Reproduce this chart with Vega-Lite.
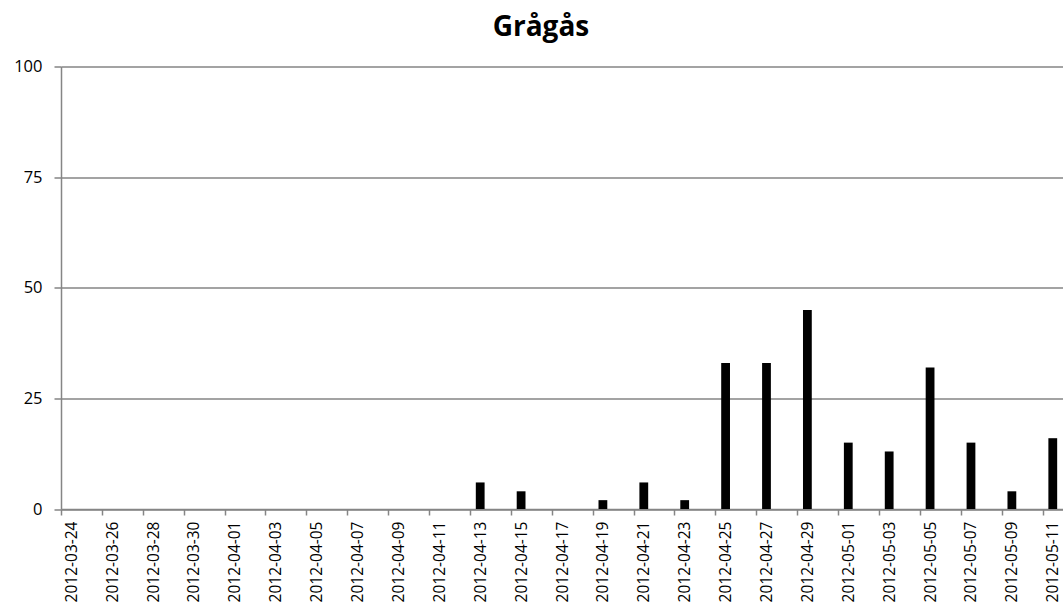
{
  "$schema": "https://vega.github.io/schema/vega-lite/v6.json",
  "width": 1002,
  "height": 442.5,
  "autosize": "none",
  "padding": {"left": 61, "top": 66.5, "right": 0, "bottom": 94},
  "background": "white",
  "title": {"text": "Grågås", "font": "Open Sans", "fontSize": 28, "fontWeight": "bold", "color": "#000000", "dx": -21, "offset": 17},
  "data": {"values": [
    {"date": "2012-03-24", "count": 0}, {"date": "2012-03-25", "count": 0}, {"date": "2012-03-26", "count": 0}, {"date": "2012-03-27", "count": 0},
    {"date": "2012-03-28", "count": 0}, {"date": "2012-03-29", "count": 0}, {"date": "2012-03-30", "count": 0}, {"date": "2012-03-31", "count": 0},
    {"date": "2012-04-01", "count": 0}, {"date": "2012-04-02", "count": 0}, {"date": "2012-04-03", "count": 0}, {"date": "2012-04-04", "count": 0},
    {"date": "2012-04-05", "count": 0}, {"date": "2012-04-06", "count": 0}, {"date": "2012-04-07", "count": 0}, {"date": "2012-04-08", "count": 0},
    {"date": "2012-04-09", "count": 0}, {"date": "2012-04-10", "count": 0}, {"date": "2012-04-11", "count": 0}, {"date": "2012-04-12", "count": 0},
    {"date": "2012-04-13", "count": 6}, {"date": "2012-04-14", "count": 0}, {"date": "2012-04-15", "count": 4}, {"date": "2012-04-16", "count": 0},
    {"date": "2012-04-17", "count": 0}, {"date": "2012-04-18", "count": 0}, {"date": "2012-04-19", "count": 2}, {"date": "2012-04-20", "count": 0},
    {"date": "2012-04-21", "count": 6}, {"date": "2012-04-22", "count": 0}, {"date": "2012-04-23", "count": 2}, {"date": "2012-04-24", "count": 0},
    {"date": "2012-04-25", "count": 33}, {"date": "2012-04-26", "count": 0}, {"date": "2012-04-27", "count": 33}, {"date": "2012-04-28", "count": 0},
    {"date": "2012-04-29", "count": 45}, {"date": "2012-04-30", "count": 0}, {"date": "2012-05-01", "count": 15}, {"date": "2012-05-02", "count": 0},
    {"date": "2012-05-03", "count": 13}, {"date": "2012-05-04", "count": 0}, {"date": "2012-05-05", "count": 32}, {"date": "2012-05-06", "count": 0},
    {"date": "2012-05-07", "count": 15}, {"date": "2012-05-08", "count": 0}, {"date": "2012-05-09", "count": 4}, {"date": "2012-05-10", "count": 0},
    {"date": "2012-05-11", "count": 16}
  ]},
  "mark": {"type": "bar", "color": "#000000", "width": {"band": 0.43}},
  "encoding": {
    "x": {
      "field": "date", "type": "ordinal", "sort": null,
      "scale": {"paddingInner": 0, "paddingOuter": 0},
      "axis": {
        "title": null,
        "values": ["2012-03-24","2012-03-26","2012-03-28","2012-03-30","2012-04-01","2012-04-03","2012-04-05","2012-04-07","2012-04-09","2012-04-11","2012-04-13","2012-04-15","2012-04-17","2012-04-19","2012-04-21","2012-04-23","2012-04-25","2012-04-27","2012-04-29","2012-05-01","2012-05-03","2012-05-05","2012-05-07","2012-05-09","2012-05-11"],
        "labelAngle": -90, "labelAlign": "right", "labelBaseline": "middle",
        "labelFont": "Open Sans", "labelFontSize": 15.5, "labelColor": "#000000",
        "labelPadding": 6, "tickSize": 6, "tickColor": "#858585", "domainColor": "#858585",
        "tickWidth": 1.5, "domainWidth": 1.5, "labelOverlap": false, "labelBound": false,
        "tickOffset": -10.22, "labelOffset": 10.22, "grid": false
      }
    },
    "y": {
      "field": "count", "type": "quantitative",
      "scale": {"domain": [0, 100], "nice": false},
      "axis": {
        "title": null, "values": [0, 25, 50, 75, 100],
        "grid": true, "gridColor": "#858585", "gridWidth": 1.5,
        "domainColor": "#858585", "domainWidth": 1.5,
        "tickColor": "#858585", "tickSize": 7, "tickWidth": 1.5,
        "labelFont": "Open Sans", "labelFontSize": 16.5, "labelColor": "#000000", "labelPadding": 12
      }
    }
  },
  "config": {"view": {"stroke": null}}
}
